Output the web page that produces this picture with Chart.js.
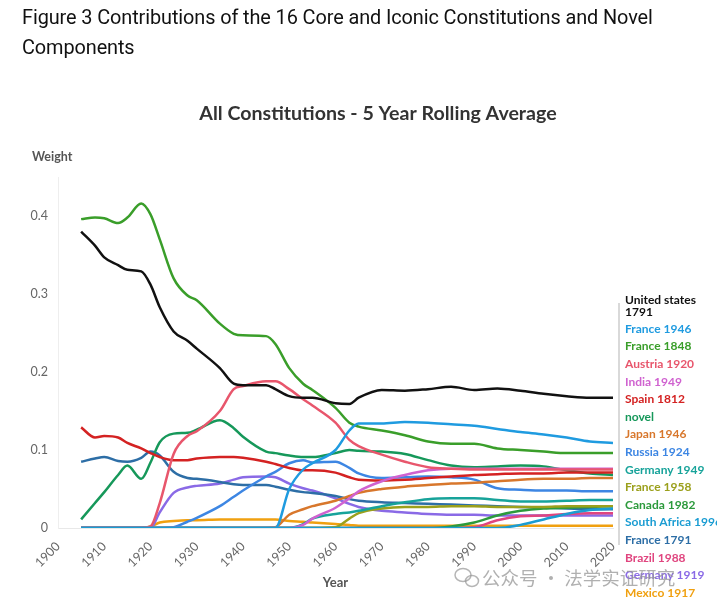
<!DOCTYPE html>
<html>
<head>
<meta charset="utf-8">
<script src="https://cdn.jsdelivr.net/npm/chart.js@4.4.1/dist/chart.umd.min.js"></script>
<style>
    html, body { margin: 0; padding: 0; background: #fff; }
    body { width: 717px; height: 610px; position: relative; overflow: hidden; }
    #caption {
        position: absolute; left: 22px; top: 3px; width: 695px;
        font-family: Roboto, "Liberation Sans", sans-serif; font-size: 19.9px;
        line-height: 30px; color: #111; letter-spacing: -0.1px;
    }
    #wrap { position: absolute; left: 0; top: 0; width: 717px; height: 610px; }
</style>
</head>
<body>
<div id="wrap"><canvas id="myChart" width="717" height="610"></canvas></div>
<div id="caption">Figure 3 Contributions of the 16 Core and Iconic Constitutions and Novel<br>Components</div>
<script>
const years = [1905, 1908, 1910, 1913, 1915, 1918, 1920, 1922, 1925, 1928, 1930, 1935, 1938, 1940, 1945, 1947,
    1950, 1953, 1955, 1960, 1963, 1965, 1970, 1975, 1980, 1985, 1990, 1995, 2000, 2005, 2010, 2015, 2020];

const unitedStates1791 = [0.380, 0.362, 0.347, 0.337, 0.331, 0.329, 0.312, 0.283, 0.252, 0.240, 0.230, 0.205, 0.185, 0.183, 0.183, 0.178,
    0.169, 0.167, 0.167, 0.160, 0.159, 0.167, 0.177, 0.176, 0.178, 0.181, 0.177, 0.179, 0.176, 0.172, 0.169, 0.167, 0.167];
const france1946 = [0, 0, 0, 0, 0, 0, 0, 0, 0, 0, 0, 0, 0, 0, 0, 0,
    0.050, 0.075, 0.083, 0.100, 0.125, 0.134, 0.134, 0.136, 0.135, 0.133, 0.131, 0.127, 0.123, 0.120, 0.116, 0.111, 0.109];
const france1848 = [0.396, 0.398, 0.397, 0.391, 0.398, 0.416, 0.402, 0.370, 0.320, 0.298, 0.292, 0.262, 0.249, 0.247, 0.246, 0.236,
    0.205, 0.185, 0.177, 0.154, 0.135, 0.130, 0.125, 0.119, 0.111, 0.108, 0.108, 0.102, 0.100, 0.098, 0.096, 0.096, 0.096];
const austria1920 = [0, 0, 0, 0, 0, 0, 0.002, 0.032, 0.095, 0.118, 0.124, 0.150, 0.178, 0.182, 0.188, 0.188,
    0.178, 0.165, 0.157, 0.135, 0.113, 0.105, 0.094, 0.085, 0.078, 0.076, 0.075, 0.075, 0.075, 0.075, 0.075, 0.075, 0.075];
const india1949 = [0, 0, 0, 0, 0, 0, 0, 0, 0, 0, 0, 0, 0, 0, 0, 0,
    0, 0.004, 0.012, 0.026, 0.038, 0.047, 0.060, 0.068, 0.074, 0.076, 0.076, 0.076, 0.076, 0.076, 0.076, 0.076, 0.076];
const spain1812 = [0.129, 0.116, 0.118, 0.116, 0.109, 0.102, 0.096, 0.091, 0.087, 0.087, 0.089, 0.091, 0.091, 0.090, 0.085, 0.082,
    0.077, 0.074, 0.074, 0.071, 0.065, 0.062, 0.061, 0.062, 0.064, 0.066, 0.068, 0.069, 0.070, 0.070, 0.071, 0.071, 0.071];
const novel = [0.011, 0.032, 0.046, 0.068, 0.080, 0.063, 0.084, 0.110, 0.121, 0.122, 0.126, 0.138, 0.128, 0.117, 0.098, 0.096,
    0.093, 0.091, 0.091, 0.096, 0.100, 0.099, 0.098, 0.095, 0.087, 0.080, 0.078, 0.079, 0.080, 0.079, 0.074, 0.070, 0.068];
const japan1946 = [0, 0, 0, 0, 0, 0, 0, 0, 0, 0, 0, 0, 0, 0, 0, 0.001,
    0.017, 0.024, 0.028, 0.035, 0.041, 0.045, 0.050, 0.053, 0.055, 0.057, 0.058, 0.060, 0.062, 0.063, 0.063, 0.064, 0.064];
const russia1924 = [0, 0, 0, 0, 0, 0, 0, 0, 0.001, 0.008, 0.013, 0.028, 0.040, 0.048, 0.066, 0.072,
    0.083, 0.087, 0.084, 0.085, 0.077, 0.070, 0.064, 0.065, 0.066, 0.065, 0.062, 0.051, 0.049, 0.048, 0.048, 0.047, 0.047];
const germany1949 = [0, 0, 0, 0, 0, 0, 0, 0, 0, 0, 0, 0, 0, 0, 0, 0,
    0, 0.005, 0.012, 0.018, 0.020, 0.022, 0.028, 0.033, 0.037, 0.038, 0.038, 0.036, 0.034, 0.034, 0.035, 0.036, 0.036];
const france1958 = [0, 0, 0, 0, 0, 0, 0, 0, 0, 0, 0, 0, 0, 0, 0, 0,
    0, 0, 0, 0.001, 0.012, 0.019, 0.025, 0.027, 0.027, 0.028, 0.028, 0.027, 0.027, 0.027, 0.028, 0.028, 0.028];
const canada1982 = [0, 0, 0, 0, 0, 0, 0, 0, 0, 0, 0, 0, 0, 0, 0, 0,
    0, 0, 0, 0, 0, 0, 0, 0, 0, 0.002, 0.007, 0.016, 0.022, 0.025, 0.026, 0.027, 0.028];
const southAfrica1996 = [0, 0, 0, 0, 0, 0, 0, 0, 0, 0, 0, 0, 0, 0, 0, 0,
    0, 0, 0, 0, 0, 0, 0, 0, 0, 0, 0, 0, 0.004, 0.011, 0.018, 0.023, 0.025];
const france1791 = [0.085, 0.089, 0.091, 0.086, 0.085, 0.090, 0.098, 0.093, 0.072, 0.064, 0.063, 0.059, 0.056, 0.055, 0.055, 0.053,
    0.049, 0.046, 0.045, 0.041, 0.037, 0.035, 0.033, 0.032, 0.031, 0.030, 0.029, 0.028, 0.027, 0.026, 0.025, 0.024, 0.024];
const brazil1988 = [0, 0, 0, 0, 0, 0, 0, 0, 0, 0, 0, 0, 0, 0, 0, 0,
    0, 0, 0, 0, 0, 0, 0, 0, 0, 0, 0.001, 0.010, 0.015, 0.016, 0.018, 0.019, 0.019];
const germany1919 = [0, 0, 0, 0, 0, 0, 0, 0.020, 0.045, 0.052, 0.054, 0.057, 0.062, 0.065, 0.066, 0.065,
    0.057, 0.051, 0.048, 0.038, 0.031, 0.027, 0.022, 0.020, 0.018, 0.017, 0.017, 0.016, 0.016, 0.016, 0.016, 0.016, 0.016];
const mexico1917 = [0, 0, 0, 0, 0, 0, 0.002, 0.007, 0.009, 0.010, 0.010, 0.011, 0.011, 0.011, 0.011, 0.011,
    0.009, 0.008, 0.007, 0.005, 0.004, 0.003, 0.003, 0.003, 0.003, 0.003, 0.003, 0.003, 0.003, 0.003, 0.003, 0.003, 0.003];

const seriesNames = ['United states 1791', 'France 1946', 'France 1848', 'Austria 1920', 'India 1949', 'Spain 1812', 'novel',
    'Japan 1946', 'Russia 1924', 'Germany 1949', 'France 1958', 'Canada 1982', 'South Africa 1996', 'France 1791',
    'Brazil 1988', 'Germany 1919', 'Mexico 1917'];
const seriesValues = [unitedStates1791, france1946, france1848, austria1920, india1949, spain1812, novel,
    japan1946, russia1924, germany1949, france1958, canada1982, southAfrica1996, france1791,
    brazil1988, germany1919, mexico1917];
const seriesColors = ['#111111', '#1f9be0', '#3a9e2a', '#e8566c', '#d062d0', '#d42222', '#16985a',
    '#d8772c', '#3d86e3', '#17a39a', '#9ba01c', '#2c9a3c', '#1a9cd2', '#2d6ea6',
    '#e0457f', '#8a6ae6', '#f0a010'];

const yTicks = [0, 0.1, 0.2, 0.3, 0.4];

// labels, title and watermark drawn on the canvas
const textPlugin = {
    id: 'textPlugin',
    afterDraw(chart) {
        const ctx = chart.ctx;
        const area = chart.chartArea;
        ctx.save();

        ctx.fillStyle = '#333';
        ctx.textBaseline = 'middle';
        ctx.textAlign = 'center';
        ctx.font = 'bold 19.6px Lato, sans-serif';
        ctx.fillText('All Constitutions - 5 Year Rolling Average', 378, 114);

        ctx.textAlign = 'left';
        ctx.fillStyle = '#555';
        ctx.font = 'bold 12.5px Lato, sans-serif';
        ctx.fillText('Weight', 32, 157);

        // connector line for the labels
        ctx.strokeStyle = '#cccccc';
        ctx.lineWidth = 1.5;
        ctx.beginPath();
        ctx.moveTo(area.right + 6, 303);
        ctx.lineTo(area.right + 6, 545);
        ctx.stroke();

        const lx = area.right + 12;
        ctx.font = 'bold 12px Lato, sans-serif';
        ctx.fillStyle = seriesColors[0];
        ctx.fillText('United states', lx, 300);
        ctx.fillText('1791', lx, 312);
        for (let i = 1; i < seriesNames.length; i++) {
            ctx.fillStyle = seriesColors[i];
            ctx.fillText(seriesNames[i], lx, 329 + (i - 1) * 17.6);
        }

        // watermark
        ctx.strokeStyle = 'rgba(150,150,150,0.7)';
        ctx.lineWidth = 1.5;
        ctx.beginPath();
        ctx.ellipse(463, 575, 8, 6.5, 0, 0, Math.PI * 2);
        ctx.stroke();
        ctx.beginPath();
        ctx.ellipse(472, 581, 6.5, 5.5, 0, 0, Math.PI * 2);
        ctx.stroke();
        ctx.fillStyle = 'rgba(150,150,150,0.75)';
        ctx.font = '18.5px "Noto Sans CJK SC", sans-serif';
        ctx.fillText('公众号 · 法学实证研究', 482, 578);
        ctx.restore();
    }
};

function createChart() {
    const ctx = document.getElementById('myChart').getContext('2d');
    const datasets = seriesNames.map((name, i) => ({
        label: name,
        data: seriesValues[i],
        borderColor: seriesColors[i],
        backgroundColor: seriesColors[i],
        order: name === 'South Africa 1996' ? -1 : i
    }));

    new Chart(ctx, {
        type: 'line',
        data: { labels: years, datasets: datasets },
        options: {
            responsive: false,
            animation: false,
            layout: { padding: { left: 22, right: 104, top: 177, bottom: 15 } },
            plugins: { legend: { display: false }, tooltip: { enabled: false }, title: { display: false } },
            elements: {
                point: { radius: 0 },
                line: { borderWidth: 2.5, cubicInterpolationMode: 'monotone' }
            },
            scales: {
                x: {
                    type: 'linear', min: 1900, max: 2020,
                    ticks: {
                        stepSize: 10, minRotation: 45, maxRotation: 45, color: '#666',
                        font: { family: 'Lato', size: 12.5 },
                        callback: v => String(v)
                    },
                    grid: { display: false },
                    border: { display: true, color: '#e8e8e8' },
                    title: { display: true, text: 'Year', color: '#555', font: { family: 'Lato', size: 13, weight: 'bold' } },
                    afterFit: s => { s.height = 67; }
                },
                y: {
                    min: 0, max: 0.45,
                    afterBuildTicks: s => { s.ticks = yTicks.map(v => ({ value: v })); },
                    ticks: {
                        color: '#666', padding: 2,
                        font: { family: 'Lato', size: 12.5 },
                        callback: v => String(Math.round(v * 10) / 10)
                    },
                    grid: { display: false },
                    border: { display: true, color: '#eeeeee' },
                    afterFit: s => { s.width = 36; }
                }
            }
        },
        plugins: [textPlugin]
    });
}

createChart();
</script>
</body>
</html>
